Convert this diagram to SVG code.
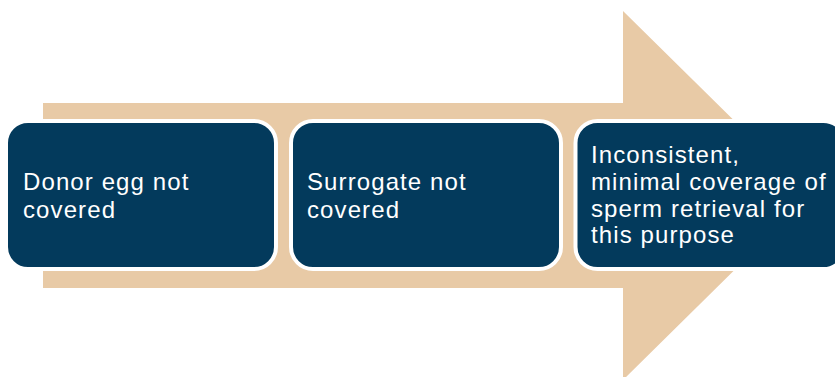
<svg xmlns="http://www.w3.org/2000/svg" width="835" height="377" viewBox="0 0 835 377">
  <style>
    .step { fill: #033A5C; stroke: #FFFFFF; stroke-width: 4; }
    .label { font-family: "Liberation Sans", Arial, sans-serif; font-size: 24px; letter-spacing: 1.1px; fill: #FFFFFF; }
  </style>
  <rect width="835" height="377" fill="#FFFFFF"/>
  <!-- Background process arrow -->
  <g id="connectors">
    <polygon points="43,103 623,103 623,11 810,195.5 623,380 623,288 43,288" fill="#E8CAA6"/>
  </g>
  <g id="step1">
    <rect class="step" x="6" y="121" width="270" height="148" rx="22" ry="22"/>
    <text class="label" x="23" y="190">Donor egg not</text>
    <text class="label" x="23" y="217.5">covered</text>
  </g>
  <g id="step2">
    <rect class="step" x="291" y="121" width="270" height="148" rx="22" ry="22"/>
    <text class="label" x="307" y="190">Surrogate not</text>
    <text class="label" x="307" y="217.5">covered</text>
  </g>
  <g id="step3">
    <rect class="step" x="575.5" y="121" width="270" height="148" rx="22" ry="22"/>
    <text class="label" x="591" y="163.3">Inconsistent,</text>
    <text class="label" x="591" y="190">minimal coverage of</text>
    <text class="label" x="591" y="216.7">sperm retrieval for</text>
    <text class="label" x="591" y="243.3">this purpose</text>
  </g>
</svg>
